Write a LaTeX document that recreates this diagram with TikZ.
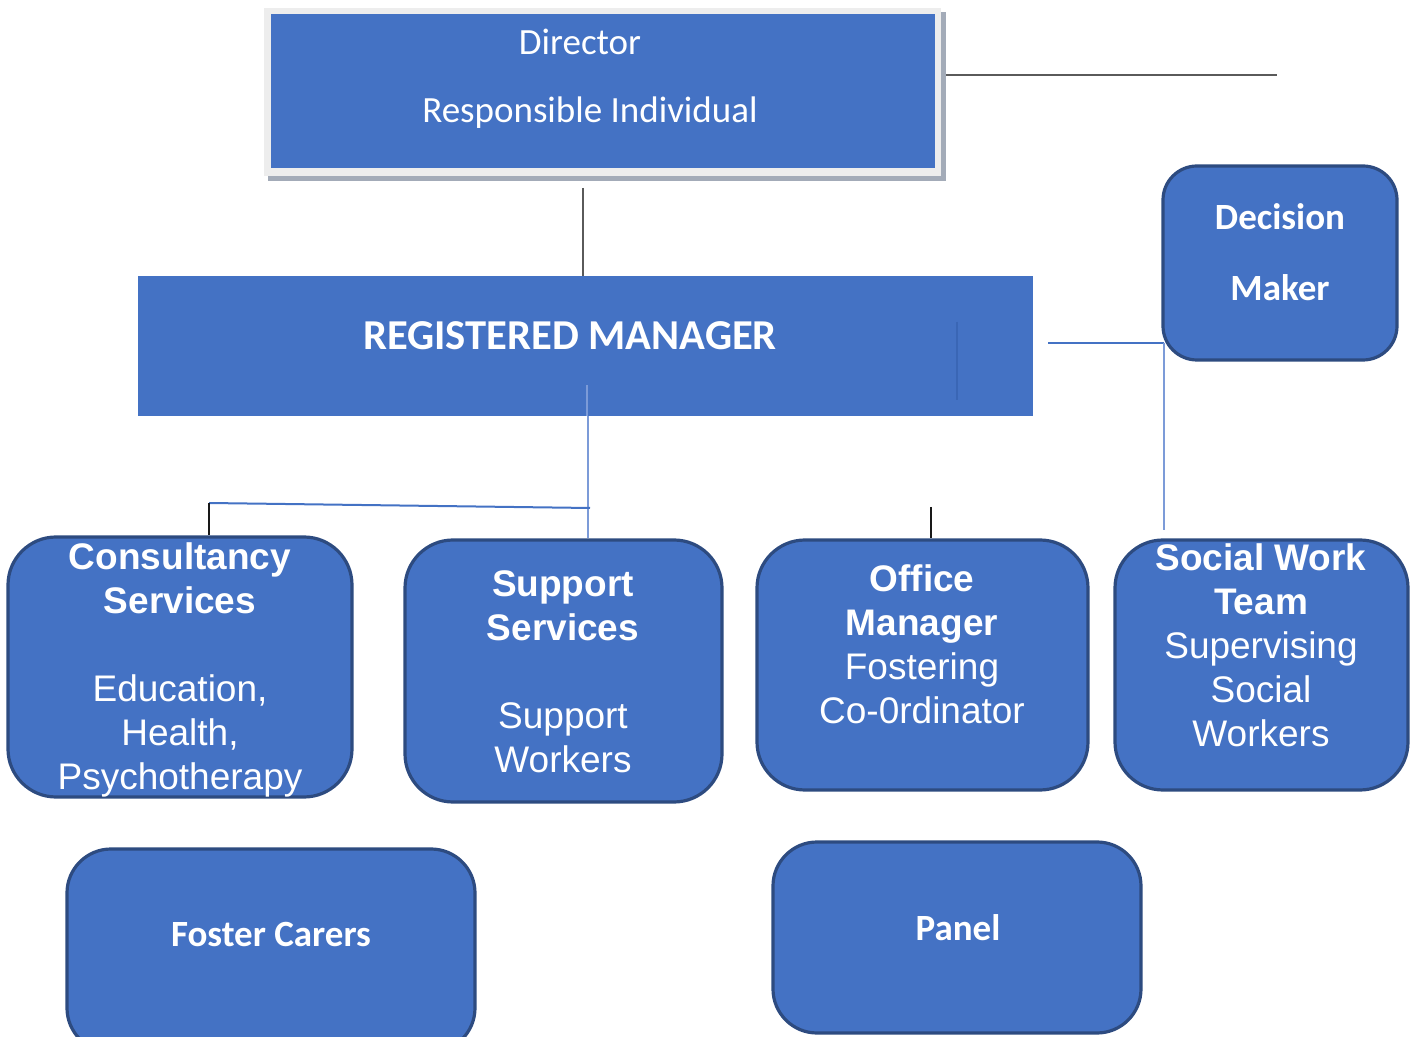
\documentclass[tikz,border=0pt]{standalone}
\usepackage{fontspec}
\setmainfont{Liberation Sans}
\newfontfamily\calib{Carlito}
\usetikzlibrary{fit,backgrounds}
\definecolor{boxfill}{HTML}{4472C4}
\definecolor{boxline}{HTML}{2D4B80}
\definecolor{greyline}{HTML}{5A5A5A}
\definecolor{lightblue}{HTML}{7C9BD8}
\definecolor{framegrey}{HTML}{EDEDED}
\definecolor{shadowgrey}{HTML}{A3ABB8}
\definecolor{innerline}{HTML}{3A66B5}
\tikzset{
  rbox/.style={draw=boxline, line width=1.6pt, fill=boxfill, rounded corners=24pt, inner sep=0pt},
  sbox/.style={fill=boxfill, inner sep=0pt},
  rowtxt/.style={text=white, align=center, font=\fontsize{18.5}{22}\selectfont, inner sep=0pt},
  caltxt/.style={text=white, align=center, font=\calib\fontsize{18.5}{22}\selectfont, inner sep=0pt},
  calbold/.style={text=white, align=center, font=\calib\bfseries\fontsize{18.5}{22}\selectfont, inner sep=0pt},
  greyconn/.style={draw=greyline, line width=1.2pt},
  blueconn/.style={draw=boxfill, line width=1pt},
  lightconn/.style={draw=lightblue, line width=1pt},
  blackconn/.style={draw=black!90, line width=1.1pt}
}
\begin{document}
\begin{tikzpicture}[x=0.5pt,y=-0.5pt]
\useasboundingbox (0,0) rectangle (1415,1037);
\clip (0,0) rectangle (1415,1037);

% Director frame
\fill[shadowgrey] (268,12) rectangle (946,181);
\fill[framegrey] (264,8) rectangle (941,176);

% boxes
\node[sbox, fit={(271,14) (935,168)}] (dir) {};
\node[sbox, fit={(138,276) (1033,416)}] (rm) {};
\node[rbox, rounded corners=17pt, fit={(1163,166) (1397,360)}] (dm) {};
\node[rbox, fit={(8,537) (352,797)}] (cons) {};
\node[rbox, fit={(405,540) (722,802)}] (sup) {};
\node[rbox, fit={(757,540) (1088,790)}] (off) {};
\node[rbox, fit={(1115,540) (1408,790)}] (sw) {};
\node[rbox, rounded corners=22pt, fit={(67,849) (475,1052)}] (fc) {};
\node[rbox, rounded corners=22pt, fit={(773,842) (1141,1033)}] (pan) {};

% faint lines inside the manager box
\draw[innerline, line width=0.6pt] (957,322) -- (957,400);
\draw[lightconn] (587,385) -- (587,416);

% texts
\node[caltxt] (dirA) at (580,42) {Director};
\node[caltxt] (dirB) at (590,113) {Responsible Individual};
\node[calbold, font=\calib\bfseries\fontsize{21.3}{24}\selectfont] (rmt) at (570,336) {REGISTERED MANAGER};
\node[calbold, font=\calib\bfseries\fontsize{18.5}{35.5}\selectfont] (dmt) at (1280,252) {Decision\\Maker};
\node[rowtxt] (const) at (180,670) {\textbf{Consultancy}\\\textbf{Services}\\[22pt]Education,\\Health,\\Psychotherapy};
\node[rowtxt] (supt) at (563,671.5) {\textbf{Support}\\\textbf{Services}\\[22pt]Support\\Workers};
\node[rowtxt] (offt) at (922,644) {\textbf{Office}\\\textbf{Manager}\\Fostering\\Co-0rdinator};
\node[rowtxt] (swt) at (1261,645) {\textbf{Social Work}\\\textbf{Team}\\Supervising\\Social\\Workers};
\node[calbold] (fct) at (271,935) {Foster Carers};
\node[calbold] (pant) at (958,928) {Panel};

% connectors (behind the boxes)
\begin{pgfonlayer}{background}
\coordinate (dirR) at (1277,75);
\coordinate (dirBot) at (583,188);
\coordinate (rmR) at (1048,343);
\coordinate (swTop) at (1164,530);
\coordinate (rmB) at (588,416);
\coordinate (hl) at (209,503);
\coordinate (hr) at (590,508);
\coordinate (offT) at (931,507);
\draw[greyconn] (dir.east |- dirR) -- (dirR);
\draw[greyconn, line width=1pt] (dirBot) -- (dirBot |- rm.north);
\draw[blueconn] (rmR) -- (rmR -| swTop);
\draw[lightconn] (rmR -| swTop) -- (swTop);
\draw[lightconn] (rmB) -- (rmB |- sup.north);
\draw[blueconn] (hl) -- (hr);
\draw[blackconn] (hl) -- (hl |- cons.north);
\draw[blackconn] (offT) -- (offT |- off.north);
\end{pgfonlayer}
\end{tikzpicture}
\end{document}
